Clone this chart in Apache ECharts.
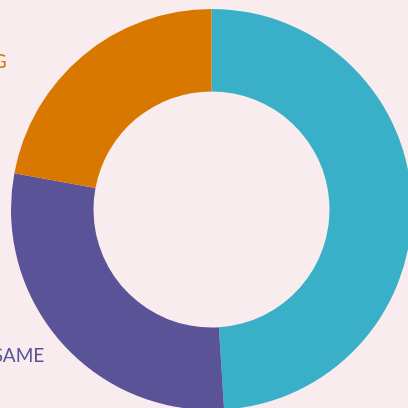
<!DOCTYPE html>
<html>
<head>
<meta charset="utf-8">
<style>
  html, body { margin: 0; padding: 0; background: #F9ECEF; }
  #chart { width: 408px; height: 408px; }
</style>
<script src="https://cdn.jsdelivr.net/npm/echarts@6/dist/echarts.min.js"></script>
</head>
<body>
<div id="chart"></div>
<script>
// Share of responses, clockwise from 12 o'clock
const categories = ['IMPROVING', 'STAYING THE SAME', 'WORSENING'];
const values = [49, 28.9, 22.1];
const colors = ['#3AB0C8', '#5B5397', '#D97800'];
// Nudges applied to each outside label after the pie lays it out
const labelNudge = [[0, 0], [14, 3], [-47, 18]];

const chart = echarts.init(document.getElementById('chart'), null, { renderer: 'canvas' });

chart.setOption({
  backgroundColor: '#F9ECEF',
  animation: false,
  series: [{
    type: 'pie',
    center: [211.5, 209.5],
    radius: [118, 200.5],
    startAngle: 90,
    clockwise: true,
    avoidLabelOverlap: false,
    label: {
      show: true,
      position: 'outside',
      fontFamily: 'Lato',
      fontSize: 19
    },
    labelLine: { show: false, length: 15, length2: 15 },
    labelLayout: function (params) {
      const n = labelNudge[params.dataIndex];
      return { dx: n[0], dy: n[1] };
    },
    itemStyle: { borderWidth: 0 },
    data: categories.map((name, i) => ({
      name: name,
      value: values[i],
      itemStyle: { color: colors[i] },
      label: { color: colors[i] }
    }))
  }]
});
</script>
</body>
</html>
